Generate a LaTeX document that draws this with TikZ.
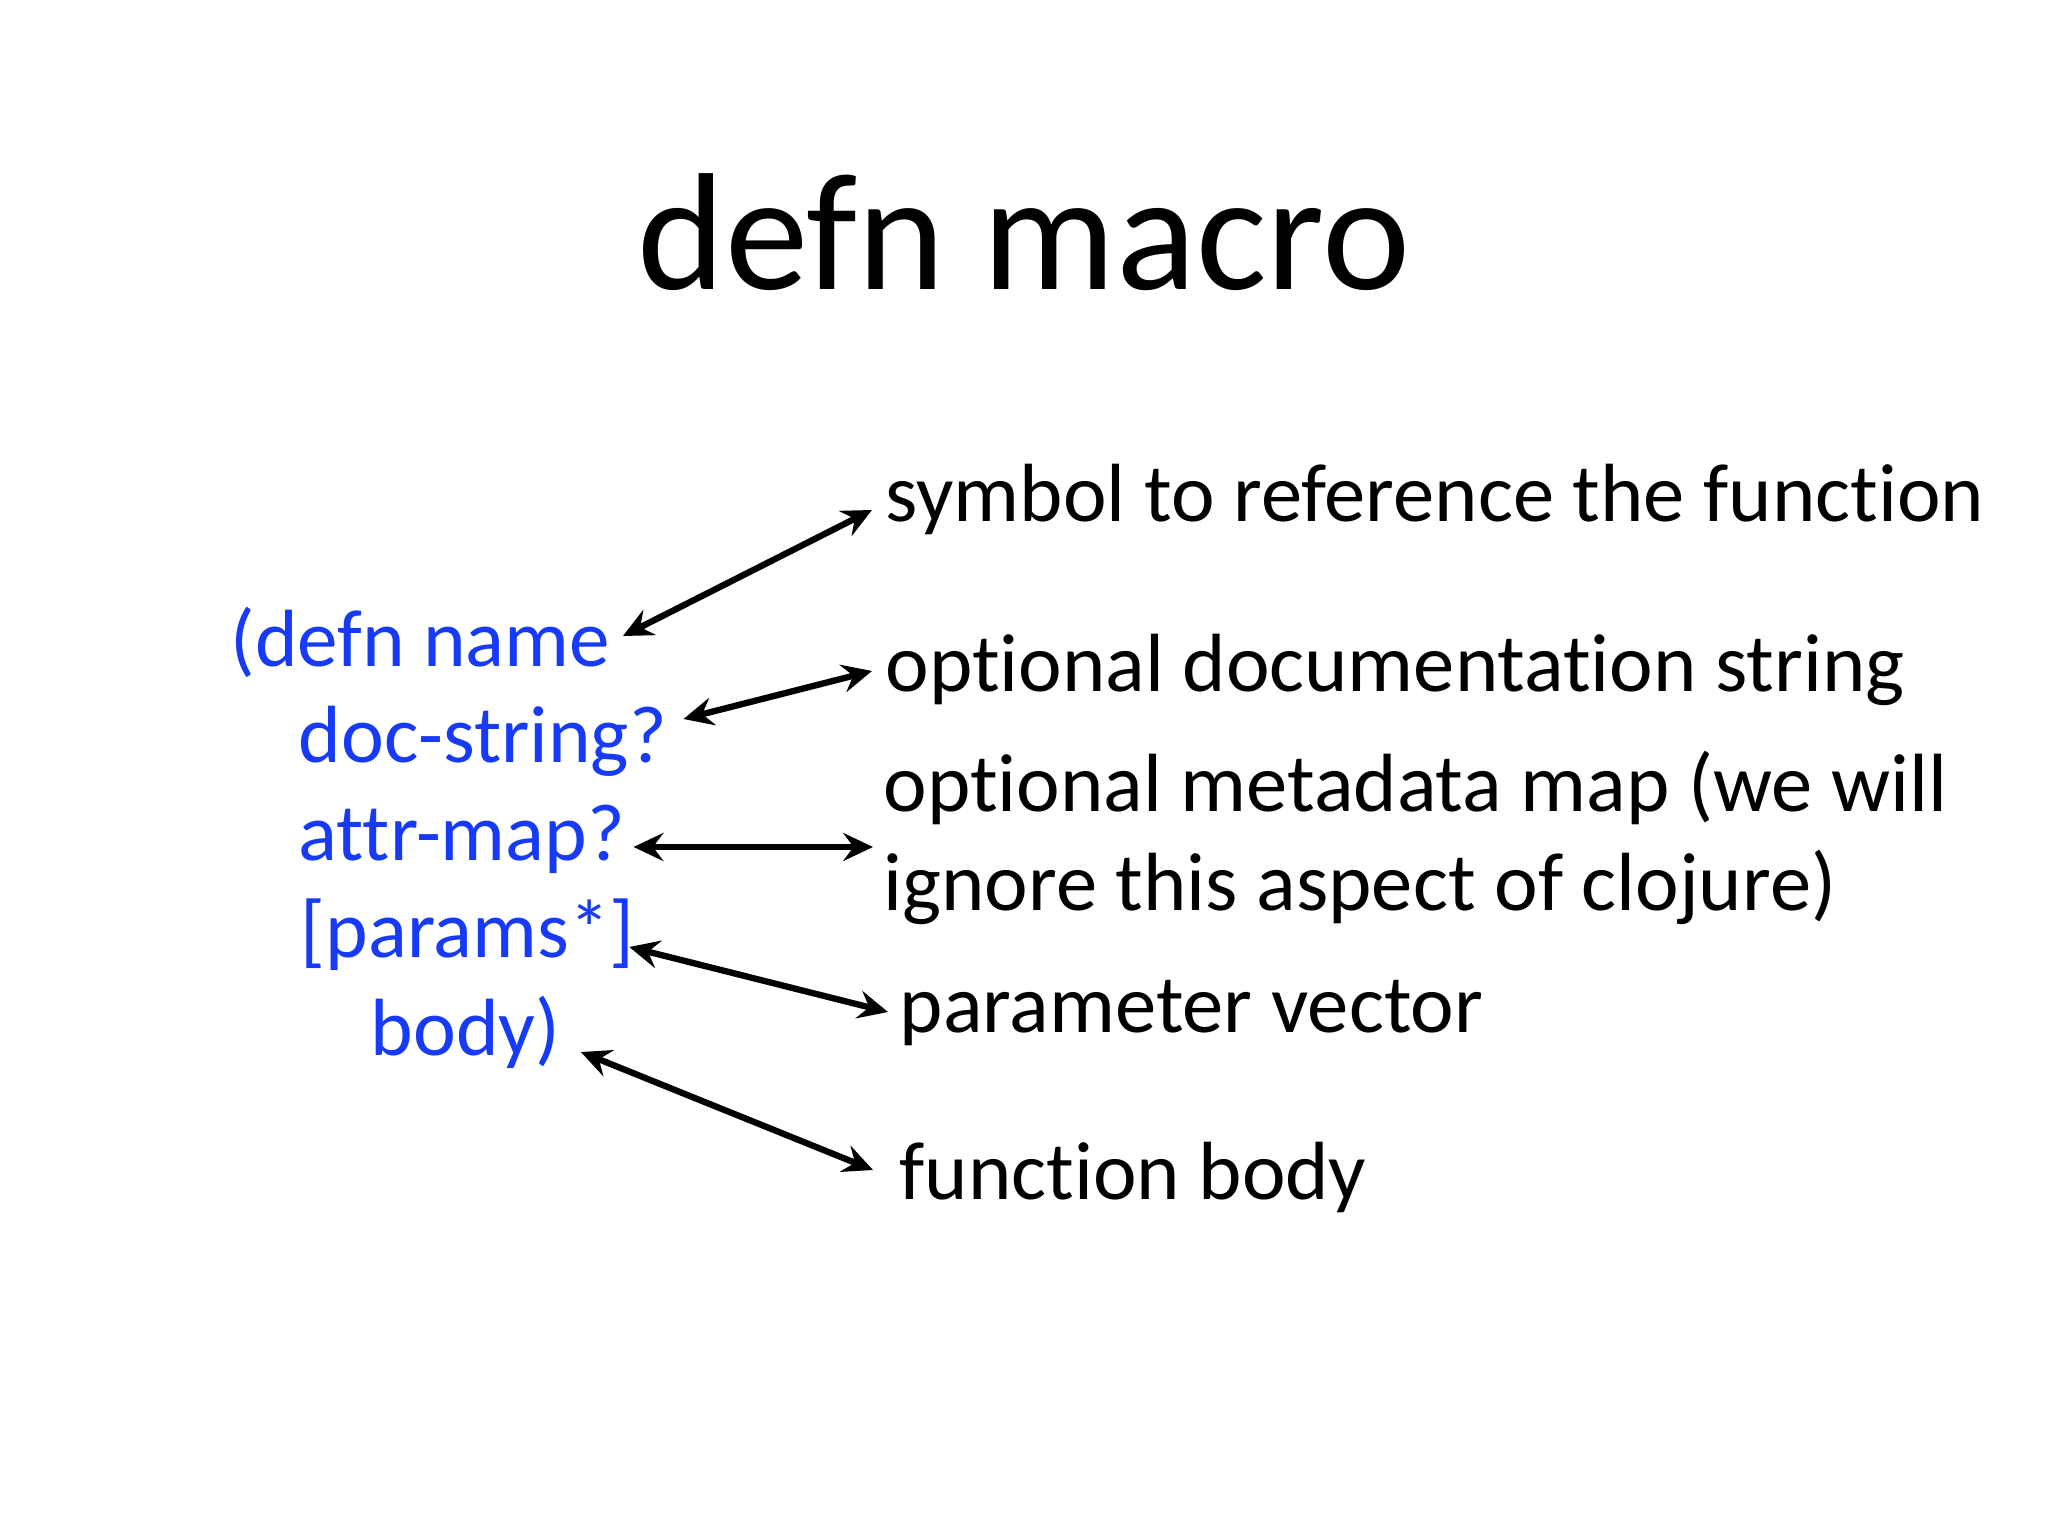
\documentclass[tikz,border=0pt]{standalone}
\usepackage{fontspec}
\setmainfont{Carlito}[Ligatures=NoCommon]
\usetikzlibrary{arrows.meta, positioning}
\definecolor{codeblue}{RGB}{22,58,245}

\begin{document}
\begin{tikzpicture}[
      code/.style={font=\fontsize{23.1}{28}\selectfont, text=codeblue,
                   anchor=base west, inner sep=0pt},
      note/.style={font=\fontsize{23.5}{28}\selectfont, anchor=base west, inner sep=0pt},
      link/.style={{Stealth[length=8.5pt, width=8pt, inset=3pt]}-{Stealth[length=8.5pt, width=8pt, inset=3pt]},
                   line width=1.8pt},
    ]
    \useasboundingbox (0,0) rectangle (20.48,-15.36);
    % title
    \node[font=\fontsize{47.5}{56}\selectfont, anchor=base] (title) at (10.24,-2.90) {defn macro};

    % the form, one part per line
    \node[code] (form)   at (2.30,-6.66)  {(defn name};
    \node[code] (doc)    at (2.98,-7.63)  {doc-string?};
    \node[code] (attr)   at (2.98,-8.60)  {attr-map?};
    \node[code] (params) at (3.00,-9.58)  {[params*]};
    \node[code] (body)   at (3.70,-10.55) {body)};

    % what each part means
    \node[note] (sym)     at (8.85,-5.22)  {symbol to reference the function};
    \node[note] (docnote) at (8.85,-6.92)  {optional documentation string};
    \node[note] (meta)    at (8.83,-8.12)  {optional metadata map (we will};
    \node[note] (meta2)   at (8.83,-9.10)  {ignore this aspect of clojure)};
    \node[note] (vec)     at (8.99,-10.32) {parameter vector};
    \node[note] (fbody)   at (8.99,-11.99) {function body};

    % double arrows between part and meaning
    \draw[link] ([shift={(0.12,0.30)}]form.base east) -- ([shift={(-0.13,0.12)}]sym.base west);
    \draw[link] ([shift={(0.16,0.44)}]doc.base east) -- ([shift={(-0.13,0.21)}]docnote.base west);
    \draw[link] ([shift={(0.08,0.13)}]attr.base east) -- ([shift={(-0.10,-0.35)}]meta.base west);
    \draw[link] ([shift={(-0.06,0.11)}]params.base east) -- ([shift={(-0.11,0.20)}]vec.base west);
    \draw[link] ([shift={(0.20,0.03)}]body.base east) -- ([shift={(-0.26,0.29)}]fbody.base west);
  \end{tikzpicture}
\end{document}
